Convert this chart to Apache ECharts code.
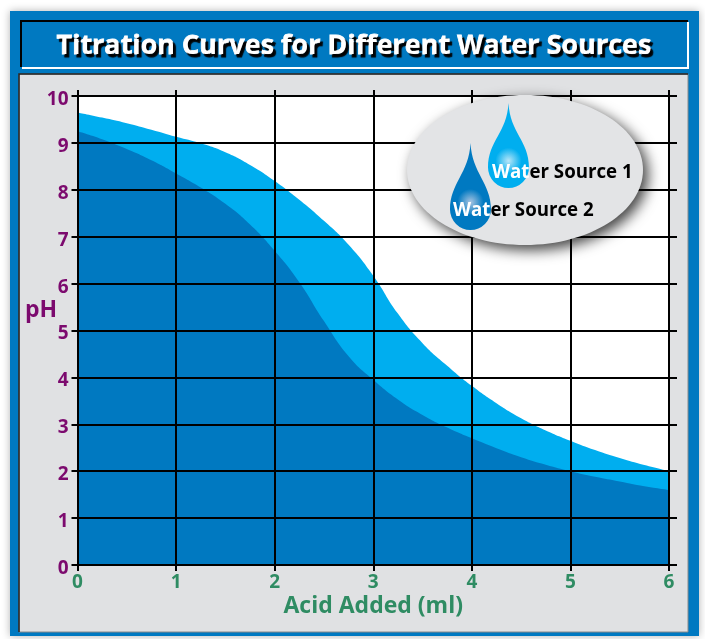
<!DOCTYPE html>
<html><head><meta charset="utf-8">
<style>html,body{margin:0;padding:0;background:#fff}#c{width:705px;height:639px}</style>
<script src="https://cdn.jsdelivr.net/npm/echarts@6/dist/echarts.min.js"></script>
</head><body><div id="c"></div>
<script>
const titleText = 'Titration Curves for Different Water Sources';
const xName = 'Acid Added (ml)';
const yName = 'pH';
const seriesNames = ['Water Source 1', 'Water Source 2'];
const acidAdded = [0,0.25,0.5,0.75,1,1.25,1.5,1.75,2,2.25,2.5,2.75,3,3.25,3.5,3.75,4,4.25,4.5,4.75,5,5.25,5.5,5.75,6];
const source1 = [9.65,9.54,9.42,9.28,9.13,8.99,8.8,8.53,8.19,7.79,7.34,6.83,6.17,5.36,4.73,4.25,3.82,3.45,3.13,2.87,2.65,2.45,2.28,2.13,2];
const source2 = [9.25,9.08,8.87,8.63,8.35,8.05,7.7,7.26,6.7,6.03,5.2,4.45,3.95,3.53,3.2,2.93,2.7,2.49,2.3,2.14,2,1.88,1.78,1.68,1.6];
const colors = ['#00aeef', '#0079c1'];
const font = '"Open Sans", "Noto Sans", sans-serif';
const purple = '#7c0a6e', green = '#2f8c63', black = '#000';
const pairs = ys => ys.map((y,i) => [acidAdded[i], y]);

echarts.graphic.registerShape('waterDrop', echarts.graphic.extendShape({
  shape:{x:0, y:0, w:40, h:85},
  buildPath(ctx, s){
    const r = s.w/2, cx = s.x+r, cy = s.y+s.h-r;
    ctx.moveTo(cx, s.y);
    ctx.bezierCurveTo(cx+1.5, s.y+s.h*0.35, s.x+s.w, cy-r*1.3, s.x+s.w, cy);
    ctx.arc(cx, cy, r, 0, Math.PI, false);
    ctx.bezierCurveTo(s.x, cy-r*1.3, cx-1.5, s.y+s.h*0.35, cx, s.y);
    ctx.closePath();
  }
}));
function drop(x, y, w, h, c, hl) {
  return {type:'waterDrop', z:21, silent:true, shape:{x, y, w, h},
    style:{fill:{type:'radial', x:0.5, y:0.68, r:0.32, colorStops:[{offset:0,color:hl},{offset:1,color:c}]}}};
}
function legendLabel(x, y, name) {
  const st = {fontFamily:font, fontWeight:700, fontSize:18.7};
  return {type:'text', z:22, silent:true, x, y, style:{
    text:'{w|'+name.slice(0,3)+'}{b|'+name.slice(3)+'}',
    rich:{w:Object.assign({fill:'#fff'},st), b:Object.assign({fill:'#000'},st)},
    verticalAlign:'middle', align:'left'}};
}
const chart = echarts.init(document.getElementById('c'), null, {renderer:'canvas'});
const valueAxisBase = {type:'value', min:0, max:10, interval:1, z:5};
const xBase = {type:'value', min:0, max:6, interval:1, z:5};
chart.setOption({
  animation:false,
  backgroundColor:'#fff',
  grid:{left:77.5, right:36, top:96, bottom:74, show:true, backgroundColor:'#fff', borderWidth:0, z:1},
  title:{text:titleText, left:349, top:28, textAlign:'center', z:10,
    textStyle:{color:'#fff', fontFamily:font, fontWeight:700, fontSize:27,
      textBorderColor:'#fff', textBorderWidth:0.8,
      textShadowColor:'#000', textShadowBlur:1, textShadowOffsetX:2.5, textShadowOffsetY:2.5}},
  xAxis:[
    Object.assign({}, xBase, {position:'bottom', name:xName, nameLocation:'middle', nameGap:30, nameMoveOverlap:false,
      nameTextStyle:{color:green, fontFamily:font, fontWeight:700, fontSize:23},
      axisLine:{show:true, onZero:false, lineStyle:{color:black, width:2}},
      axisTick:{show:true, length:6, lineStyle:{color:black, width:2}},
      axisLabel:{color:green, fontFamily:font, fontWeight:700, fontSize:19, margin:8},
      splitLine:{show:true, lineStyle:{color:black, width:2}}}),
    Object.assign({}, xBase, {position:'top', axisLabel:{show:false}, splitLine:{show:false},
      axisLine:{show:true, onZero:false, lineStyle:{color:black, width:2}},
      axisTick:{show:true, length:6, lineStyle:{color:black, width:2}}})
  ],
  yAxis:[
    Object.assign({}, valueAxisBase, {position:'left',
      axisLine:{show:true, onZero:false, lineStyle:{color:black, width:2}},
      axisTick:{show:true, length:6, lineStyle:{color:black, width:2}},
      axisLabel:{color:purple, fontFamily:font, fontWeight:700, fontSize:19, margin:9, verticalAlign:'top', lineHeight:7},
      splitLine:{show:true, lineStyle:{color:black, width:2}}}),
    Object.assign({}, valueAxisBase, {position:'right', axisLabel:{show:false}, splitLine:{show:false},
      axisLine:{show:true, onZero:false, lineStyle:{color:black, width:2}},
      axisTick:{show:true, length:8, lineStyle:{color:black, width:2}}})
  ],
  series:[
    {name:seriesNames[0], type:'line', data:pairs(source1), z:2, smooth:0.5, showSymbol:false, lineStyle:{width:0}, itemStyle:{color:colors[0]}, areaStyle:{color:colors[0], opacity:1}},
    {name:seriesNames[1], type:'line', data:pairs(source2), z:3, smooth:0.5, showSymbol:false, lineStyle:{width:0}, itemStyle:{color:colors[1]}, areaStyle:{color:colors[1], opacity:1}}
  ],
  graphic:{elements:[
    {type:'rect', silent:true, z:-10, shape:{x:10,y:11,width:689,height:625}, style:{fill:'#0079c1', shadowBlur:8, shadowColor:'rgba(0,0,0,0.3)'}},
    {type:'rect', silent:true, z:-9, shape:{x:19,y:74,width:669,height:558}, style:{fill:'#e0e1e3', stroke:'#8a8a8a', lineWidth:1}},
    {type:'polyline', silent:true, z:-8, shape:{points:[[19,632],[19,74],[688,74]]}, style:{fill:'none', stroke:'#222', lineWidth:1.5}},
    {type:'polyline', silent:true, z:-8, shape:{points:[[21,67],[21,21],[688,21]]}, style:{fill:'none', stroke:'#000', lineWidth:2}},
    {type:'polyline', silent:true, z:-8, shape:{points:[[22,68],[688,68],[688,22]]}, style:{fill:'none', stroke:'#fff', lineWidth:2}},
    {type:'text', silent:true, z:22, x:41, y:310, style:{text:yName, fill:purple, fontFamily:font, fontWeight:700, fontSize:23, align:'center', verticalAlign:'middle'}},
    {type:'ellipse', silent:true, z:20, shape:{cx:525,cy:170,rx:118,ry:75}, style:{fill:'#e3e4e6', shadowBlur:14, shadowOffsetX:5, shadowOffsetY:5, shadowColor:'rgba(0,0,0,0.75)'}},
    drop(488,103,41,85,colors[0],'#b8e6f8'),
    drop(450,143,41,87,colors[1],'#a9c5e2'),
    legendLabel(492,173,seriesNames[0]),
    legendLabel(453,211,seriesNames[1])
  ]}
});
</script></body></html>
